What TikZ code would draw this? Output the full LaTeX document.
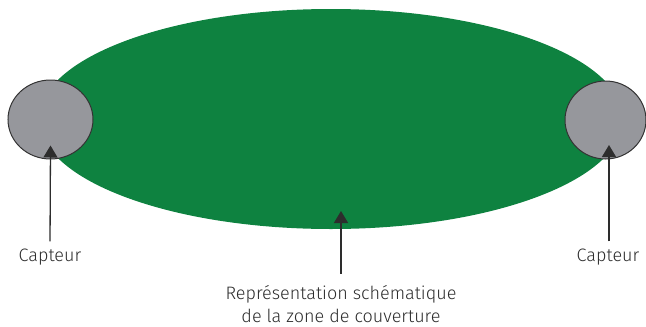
\documentclass[tikz,border=0pt]{standalone}
\usepackage{fontspec}
\setmainfont{Fira Sans}[UprightFont=* Light]
\usepackage{tikz}
\usetikzlibrary{arrows.meta,shapes.geometric}
\definecolor{zonegreen}{RGB}{14, 130, 64}
\definecolor{sensorgray}{RGB}{150, 151, 156}
\definecolor{textgray}{RGB}{45, 45, 45}

\begin{document}
\begin{tikzpicture}[x=1pt,y=-1pt,
    capteur/.style={ellipse,draw=black!80,line width=1pt,fill=sensorgray,inner sep=0pt},
    fleche/.style={-{Triangle[length=12pt,width=14pt]},line width=1.3pt,textgray},
    legende/.style={font=\fontsize{18}{23}\selectfont,text=textgray,align=center}]
        \useasboundingbox (0,0) rectangle (646,327);
        \fill[zonegreen] (331,119) ellipse [x radius=292pt, y radius=110pt];
        \coordinate (zone) at (341,211);
        \node[capteur,minimum width=85pt,minimum height=79pt] (capG) at (50.5,119.5) {};
        \node[capteur,minimum width=81pt,minimum height=78pt] (capD) at (605.5,120) {};
        \node[legende] (lblG) at (50,257) {Capteur};
        \node[legende] (lblD) at (608,257) {Capteur};
        \node[legende] (lblZ) at (341,304) {Représentation schématique\\de la zone de couverture};
        \draw[fleche,shorten <=4pt] (lblG.north) -- ([yshift=-26pt]capG.center);
        \draw[fleche,shorten <=4pt] (lblD.north -| 609,0) -- ([xshift=3.5pt,yshift=-25pt]capD.center);
        \draw[fleche,shorten <=8pt] (lblZ.north) -- (zone);
    \end{tikzpicture}
\end{document}
